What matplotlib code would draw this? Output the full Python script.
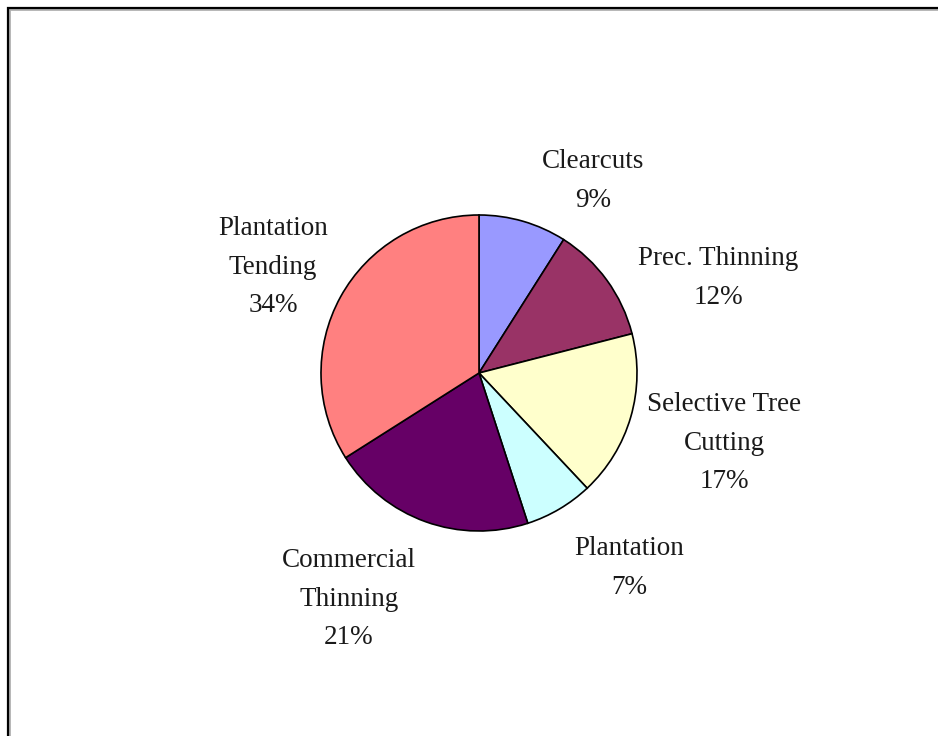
import matplotlib
matplotlib.use("Agg")
import matplotlib.pyplot as plt
from matplotlib.patches import Rectangle

categories = ["Clearcuts", "Prec. Thinning", "Selective Tree\nCutting", "Plantation",
              "Commercial\nThinning", "Plantation\nTending"]
shares = [9, 12, 17, 7, 21, 34]
colors = ["#9999FF", "#993366", "#FFFFCC", "#CCFFFF", "#660066", "#FF8080"]

W, H = 938, 736
fig = plt.figure(figsize=(W / 100, H / 100), dpi=100)
ax = fig.add_axes([0, 0, 1, 1])

cx, cy, r = 479, H - 373, 158
ax.pie(shares, colors=colors, startangle=90, counterclock=False,
       center=(cx, cy), radius=r, frame=True,
       wedgeprops=dict(edgecolor="black", linewidth=1.2))
ax.set_xlim(0, W)
ax.set_ylim(0, H)
ax.axis("off")

# label anchor points (centre of each text block, pixel units from top-left)
label_pos = [(593, 181), (718, 278), (724, 443), (629, 568), (349, 599), (273, 267)]
for name, val, (x, y) in zip(categories, shares, label_pos):
    ax.text(x, H - y, f"{name}\n{val}%", ha="center", va="center",
            fontsize=19.5, family="Liberation Serif", linespacing=1.7,
            color="#1a1a1a")

# chart area border with a thin shadow
fig.patches.append(Rectangle((9 / W, -0.1), 1.2, (H - 9) / H + 0.1,
                             transform=fig.transFigure, fill=False,
                             edgecolor="#b0b0b0", linewidth=2.0))
fig.patches.append(Rectangle((8 / W, -0.1), 1.2, (H - 8) / H + 0.1,
                             transform=fig.transFigure, fill=False,
                             edgecolor="black", linewidth=1.6))

fig.savefig("out.png", dpi=100)
